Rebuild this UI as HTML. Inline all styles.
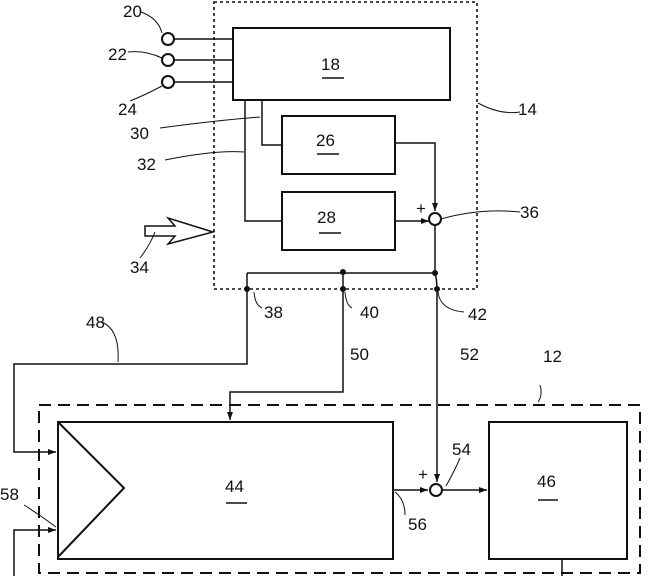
<!DOCTYPE html>
<html><head><style>body{margin:0;background:#fff}svg{display:block}text{font-family:"Liberation Sans",sans-serif;font-size:17px;fill:#111}</style></head>
<body>
<svg width="648" height="576" viewBox="0 0 648 576" xmlns="http://www.w3.org/2000/svg">
<defs><marker id="a" markerWidth="8" markerHeight="6" refX="8" refY="3" orient="auto" markerUnits="userSpaceOnUse"><path d="M0,0L8,3L0,6z" fill="#111"/></marker></defs>
<g stroke="#111" stroke-width="2" fill="none">
<rect x="214" y="2" width="263" height="287" stroke-dasharray="3,3" stroke-width="1.6"/>
<rect x="39" y="405" width="601" height="168" stroke-dasharray="12,7"/>
<rect x="233" y="28" width="217" height="72"/>
<rect x="282" y="116" width="113" height="58"/>
<rect x="282" y="192" width="113" height="58"/>
<circle cx="168" cy="39" r="6"/><circle cx="168" cy="60" r="6"/><circle cx="168" cy="82" r="6"/>
<path d="M174 39H233M174 60H233M174 82H233" stroke-width="1.5"/>
<path d="M262 100V145H282M245 100V221H282" stroke-width="1.5"/>
<path d="M395 143H435V211" marker-end="url(#a)" stroke-width="1.5"/>
<path d="M395 221H429" marker-end="url(#a)" stroke-width="1.5"/>
<circle cx="435" cy="219" r="6"/>
<path d="M435 225V273M247 273H435" stroke-width="1.5"/>
<path d="M247 273V364H14V452H56" marker-end="url(#a)" stroke-width="1.5"/>
<path d="M343 273V392H230V420" marker-end="url(#a)" stroke-width="1.5"/>
<path d="M435 273Q437 280 437 290V482" marker-end="url(#a)" stroke-width="1.5"/>
<path d="M14 576V530H56" marker-end="url(#a)" stroke-width="1.5"/>
<rect x="58" y="422" width="335" height="137"/>
<path d="M58 422L124 488L58 557"/>
<rect x="489" y="422" width="138" height="137"/>
<path d="M393 490H428" marker-end="url(#a)" stroke-width="1.5"/>
<circle cx="436" cy="490" r="6"/>
<path d="M442 490H487" marker-end="url(#a)" stroke-width="1.5"/>
<path d="M562 559V576" stroke-width="1.5"/>
<path d="M145 226H175L168 218L213 232L168 244L175 236H145Z" stroke-width="1.5"/>
<g stroke-width="1"><path d="M141 12Q158 18 162 33M128 52Q145 50 162 58M130 101Q145 95 162 86M160 128Q220 120 260 117M165 160Q215 150 244 152M140 258Q150 245 155 232M478 103Q500 115 520 112M441 219Q480 208 520 212M254 292Q255 305 262 308M345 292Q346 305 352 308M438 292Q440 310 464 312M102 322Q120 330 118 362M540 385Q543 395 538 402M446 486Q455 470 460 458M395 492Q405 500 405 515M24 505Q40 515 56 527"/></g>
</g>
<g fill="#111"><circle cx="343" cy="272" r="3"/><circle cx="435" cy="273" r="3"/><circle cx="247" cy="289" r="3"/><circle cx="343" cy="289" r="3"/><circle cx="437" cy="289" r="3"/></g>
<g stroke="#111" stroke-width="1.5"><path d="M322 78H344M317 154H339M319 233H341M226 503H247M538 500H558"/></g>
<text x="321" y="70">18</text><text x="316" y="146">26</text><text x="317" y="223">28</text>
<text x="225" y="492">44</text><text x="537" y="487">46</text>
<text x="123" y="17">20</text><text x="108" y="60">22</text><text x="118" y="115">24</text>
<text x="130" y="139">30</text><text x="137" y="170">32</text><text x="130" y="273">34</text>
<text x="518" y="115">14</text><text x="520" y="218">36</text>
<text x="264" y="318">38</text><text x="360" y="318">40</text><text x="468" y="320">42</text>
<text x="86" y="328">48</text><text x="350" y="360">50</text><text x="460" y="360">52</text><text x="543" y="362">12</text>
<text x="452" y="455">54</text><text x="408" y="530">56</text><text x="0" y="500">58</text>
<text x="416" y="214">+</text><text x="418" y="480">+</text>
</svg>
</body></html>
